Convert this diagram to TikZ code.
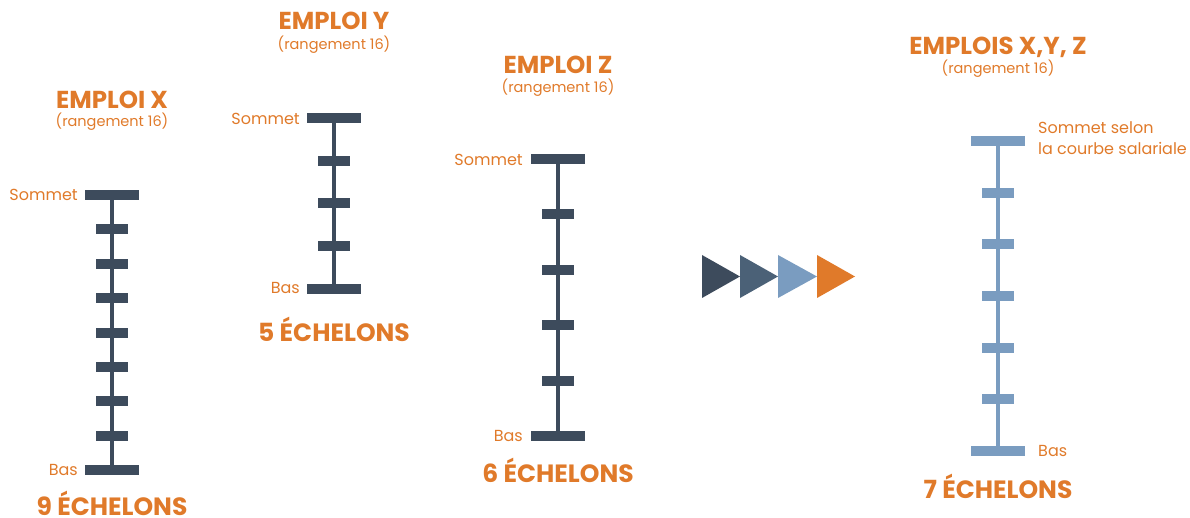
\documentclass[tikz,border=0pt]{standalone}
\usepackage{fontspec}
\setmainfont{Poppins}
\definecolor{dslate}{HTML}{3D4B5C}
\definecolor{mslate}{HTML}{4B6177}
\definecolor{lblue}{HTML}{7A9CC0}
\definecolor{orng}{HTML}{E07A2A}
\tikzset{
  title/.style={text=orng,font=\bfseries\fontsize{24.5}{25}\selectfont,inner sep=0pt,anchor=base},
  sub/.style={text=orng,font=\fontsize{14.5}{15}\selectfont,inner sep=0pt,anchor=base},
  lab/.style={text=orng,font=\fontsize{16}{21}\selectfont,inner sep=0pt},
  big/.style={text=orng,font=\bfseries\fontsize{25}{25}\selectfont,inner sep=0pt,anchor=base},
}
\newcommand{\myladder}[5]{%
  % #1 x, #2 ytop, #3 ybot, #4 n intervals, #5 colour
  \draw[#5,line width=4.5pt] (#1,#2) -- (#1,#3);
  \fill[#5] ({#1-27},{#2-5}) rectangle ({#1+27},{#2+5});
  \fill[#5] ({#1-27},{#3-5}) rectangle ({#1+27},{#3+5});
  \pgfmathsetmacro{\mystep}{(#3-#2)/#4}
  \pgfmathtruncatemacro{\mylast}{#4-1}
  \foreach \k in {1,...,\mylast}{
    \fill[#5] ({#1-16},{#2+\k*\mystep-5}) rectangle ({#1+16},{#2+\k*\mystep+5});
  }
}
\begin{document}
\begin{tikzpicture}[x=1pt,y=-1pt]
\useasboundingbox (0,0) rectangle (1190,518);
% Emploi X
\myladder{112}{195}{470}{8}{dslate}
\node[title] (tx) at (112,109) {EMPLOI X};
\node[sub] (rx) at (112,127) {(rangement 16)};
\node[lab,anchor=base east] (sx) at (78,201) {Sommet};
\node[lab,anchor=base east] (bx) at (78,475) {Bas};
\node[big] (ex) at (112,515.5) {9 ÉCHELONS};
% Emploi Y
\myladder{334}{118}{289}{4}{dslate}
\node[title] (ty) at (334,30) {EMPLOI Y};
\node[sub] (ry) at (334,50) {(rangement 16)};
\node[lab,anchor=base east] (sy) at (300,125) {Sommet};
\node[lab,anchor=base east] (by) at (300,294) {Bas};
\node[big] (ey) at (334,341) {5 ÉCHELONS};
% Emploi Z
\myladder{558}{159}{436}{5}{dslate}
\node[title] (tz) at (558,74) {EMPLOI Z};
\node[sub] (rz) at (558,93) {(rangement 16)};
\node[lab,anchor=base east] (sz) at (523,166) {Sommet};
\node[lab,anchor=base east] (bz) at (523,441) {Bas};
\node[big] (ez) at (558,482) {6 ÉCHELONS};
% Emplois X,Y,Z
\myladder{998}{141}{451}{6}{lblue}
\node[title] (txyz) at (998,55) {EMPLOIS X,Y, Z};
\node[sub] (rxyz) at (998,74) {(rangement 16)};
\node[lab,anchor=base west] (sxyz) at (1038,134) {Sommet selon};
\node[lab,anchor=base west] (sxyz2) at (1038,155) {la courbe salariale};
\node[lab,anchor=base west] (bxyz) at (1038,456) {Bas};
\node[big] (exyz) at (998,498) {7 ÉCHELONS};
% arrows
\fill[dslate] (702,255) -- (740,276.5) -- (702,298) -- cycle;
\fill[mslate] (740,255) -- (778,276.5) -- (740,298) -- cycle;
\fill[lblue] (778,255) -- (817,276.5) -- (778,298) -- cycle;
\fill[orng] (817,255) -- (855,276.5) -- (817,298) -- cycle;
\end{tikzpicture}
\end{document}
